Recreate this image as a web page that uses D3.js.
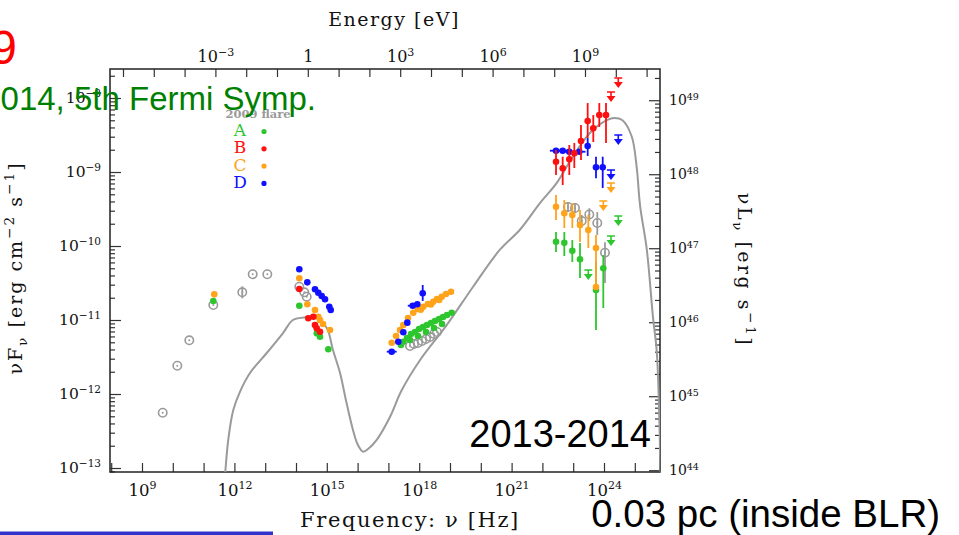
<!DOCTYPE html>
<html>
<head>
<meta charset="utf-8">
<script src="https://cdn.jsdelivr.net/npm/d3@7"></script>
<style>
  body { margin: 0; background: #fff; }
  svg { display: block; }
</style>
</head>
<body>
<svg id="sed" width="959" height="535"></svg>
<script>
// Values are log10(frequency / Hz) and log10(νFν / erg cm^-2 s^-1).

// Emission model (grey curve)
const modelLogNu = [11.68, 11.80, 11.964, 12.18, 12.506, 13.05, 13.578, 13.90, 14.29, 14.67,
  15.0, 15.20, 15.43, 15.62, 15.85, 16.0, 16.18, 16.35, 16.62, 17.05, 17.43, 18.03, 18.89,
  19.75, 20.62, 21.27, 21.92, 22.46, 22.99, 23.55, 24.09, 24.34, 24.60, 24.90, 25.06, 25.17,
  25.39, 25.59, 25.71, 25.78, 25.84];
const modelLogFlux = [-13.2, -12.62, -12.216, -11.97, -11.716, -11.446, -11.176, -11.0, -10.964, -10.977,
  -11.108, -11.405, -11.716, -12.08, -12.486, -12.68, -12.78, -12.74, -12.62, -12.31, -11.95, -11.54, -11.07,
  -10.55, -10.05, -9.78, -9.42, -9.15, -8.79, -8.47, -8.30, -8.27, -8.30, -8.52, -8.93, -9.45,
  -10.05, -10.96, -11.41, -12.08, -13.2];

// Rows: [log ν, log νFν, log lower, log upper, half-width in log ν]
const flare2009 = [
  [9.672, -12.253], [10.146, -11.618], [10.536, -11.274], [11.315, -10.797],
  [12.256, -10.626, -10.707, -10.545], [12.594, -10.382], [13.068, -10.382],
  [14.107, -10.55], [14.27, -10.626], [14.347, -10.685],
  [17.701, -11.351], [17.831, -11.324], [17.961, -11.311], [18.091, -11.284],
  [18.221, -11.257], [18.351, -11.23], [18.481, -11.189], [18.578, -11.162],
  [22.831, -9.473, -9.54, -9.41], [23.058, -9.486, -9.55, -9.42],
  [23.276, -9.662, -9.75, -9.58], [23.523, -9.574, -9.66, -9.49],
  [23.782, -9.689, -9.851, -9.541], [24.032, -10.091, -10.5, -9.95]
];
const stateA = [
  [11.315, -10.743], [14.107, -10.807], [14.675, -11.18], [14.779, -11.226], [15.049, -11.396],
  [17.409, -11.338], [17.484, -11.293], [17.604, -11.243], [17.701, -11.27], [17.734, -11.189],
  [17.864, -11.162], [17.961, -11.216], [17.994, -11.122], [18.123, -11.095], [18.221, -11.162],
  [18.253, -11.068], [18.383, -11.041], [18.481, -11.108], [18.513, -11.014], [18.643, -10.986],
  [18.74, -11.054], [18.773, -10.959], [18.903, -10.932], [19.055, -10.901],
  [22.442, -9.942, -10.081, -9.811], [22.711, -9.955, -10.135, -9.811],
  [22.971, -10.064, -10.216, -9.919], [23.221, -10.18, -10.432, -9.959],
  [23.74, -10.595, -11.135, -10.216], [23.977, -10.301, -10.838, -10.122]
];
const stateB = [
  [14.107, -10.581], [14.399, -10.977], [14.562, -10.955], [14.617, -11.068],
  [14.672, -11.112], [14.779, -11.158],
  [22.442, -8.861, -9.041, -8.703], [22.659, -8.95, -9.176, -8.793],
  [22.873, -8.828, -9.041, -8.635], [23.036, -8.747, -8.946, -8.608],
  [23.253, -8.581, -8.838, -8.365], [23.47, -8.311, -8.541, -8.068],
  [23.652, -8.409, -8.595, -8.23], [23.847, -8.23, -8.392, -8.068],
  [24.065, -8.23, -8.608, -8.068]
];
const stateC = [
  [11.347, -10.653], [14.107, -10.436], [14.367, -10.788], [14.617, -10.865], [14.724, -10.955],
  [14.779, -11.0], [14.877, -11.054], [15.104, -11.135],
  [17.107, -11.307], [17.247, -11.216], [17.377, -11.135], [17.484, -11.068], [17.636, -10.973],
  [17.808, -10.901], [17.961, -10.851], [18.05, -10.86], [18.133, -10.82], [18.286, -10.784],
  [18.38, -10.79], [18.458, -10.753], [18.578, -10.716], [18.65, -10.73], [18.731, -10.685],
  [18.87, -10.649], [19.032, -10.618],
  [22.442, -9.469, -9.649, -9.311], [22.711, -9.558, -9.757, -9.378],
  [22.971, -9.581, -9.757, -9.419], [23.221, -9.716, -9.946, -9.514],
  [23.49, -9.784, -10.027, -9.581], [23.74, -10.027, -10.554, -9.851], [23.74, -10.554]
];
const stateD = [
  [14.107, -10.315], [14.367, -10.491], [14.617, -10.585], [14.724, -10.631], [14.834, -10.676],
  [14.942, -10.72], [15.081, -10.82], [15.127, -10.865],
  [17.107, -11.428, null, null, 0.16], [17.321, -11.293], [17.484, -11.166], [17.614, -11.036],
  [17.789, -10.807, null, null, 0.16], [17.938, -10.788], [18.114, -10.639, -10.743, -10.527],
  [22.442, -8.712, null, null, 0.2], [22.659, -8.712, null, null, 0.2],
  [22.873, -8.726, null, null, 0.16], [23.198, -8.726, null, null, 0.2],
  [23.47, -8.649, -8.784, -8.541], [23.74, -8.936, -9.085, -8.793], [23.958, -8.936, -9.216, -8.793]
];

// Upper limits: [log ν, log νFν]
const limitsA = [[23.49, -10.324], [24.227, -9.865], [24.464, -9.595]];
const limitsB = [[24.227, -7.919], [24.464, -7.73]];
const limitsC = [[24.227, -9.149], [23.977, -9.392]];
const limitsD = [[24.227, -8.973], [24.464, -8.5]];

const legendStates = ["A", "B", "C", "D"];
const stateColors = ["#2ec62e", "#ff1010", "#ffa31a", "#1010ff"];

// Labelled ticks (exponents)
const nuLabelExps = [9, 12, 15, 18, 21, 24];
const energyLabelExps = [-3, 0, 3, 6, 9];
const fluxLabelExps = [-13, -12, -11, -10, -9, -8];
const lumLabelExps = [44, 45, 46, 47, 48, 49];

const LOG_4PI_DL2 = 57.03;  // νLν = 4π d_L² νFν
const LOG_NU_PER_EV = 14.383; // ν = E / h

const frame = { left: 110, right: 660, top: 69, bottom: 472 };
const svg = d3.select("#sed");
svg.append("rect").attr("width", 959).attr("height", 535).attr("fill", "#fff");

const x = d3.scaleLog().domain([10 ** 7.961, 10 ** 25.818]).range([frame.left, frame.right]);
const y = d3.scaleLog().domain([10 ** -13.054, 10 ** -7.608]).range([frame.bottom, frame.top]);
const yLum = d3.scaleLog().domain(y.domain().map(v => v * 10 ** LOG_4PI_DL2)).range(y.range());
const xEnergy = d3.scaleLog().domain(x.domain().map(v => v / 10 ** LOG_NU_PER_EV)).range(x.range());

function decades(scale) {
  const [a, b] = scale.domain(), out = [];
  for (let k = Math.ceil(Math.log10(a) - 1e-9); k <= Math.floor(Math.log10(b) + 1e-9); k++) out.push(10 ** k);
  return out;
}
function minors(scale) {
  const [a, b] = scale.domain(), out = [];
  for (let k = Math.floor(Math.log10(a)); k <= Math.ceil(Math.log10(b)); k++)
    for (let m = 2; m <= 9; m++) { const v = m * 10 ** k; if (v >= a && v <= b) out.push(v); }
  return out;
}
function powLabels(g, exps, fs, supFs, supDy) {
  g.selectAll(".tick text").each(function (d) {
    const e = Math.round(Math.log10(d));
    const t = d3.select(this).text(null).attr("font-size", fs);
    if (!exps.includes(e)) return;
    if (e === 0) { t.text("1"); return; }
    t.append("tspan").text("10");
    t.append("tspan").attr("font-size", supFs).attr("dy", supDy).text(e < 0 ? "\u2212" + (-e) : String(e));
  });
}
function styleAxis(g) {
  g.attr("font-family", "DejaVu Serif, serif").attr("fill", "#111");
  g.select(".domain").remove();
  g.selectAll(".tick line").attr("stroke", "#333").attr("stroke-width", 1.2);
  g.selectAll(".tick text").attr("fill", "#111");
}
function rich(t, parts, fs) {
  let off = 0;
  parts.forEach(([s, k]) => {
    const target = k === "sup" ? -0.4 * fs : k === "sub" ? 0.28 * fs : 0;
    t.append("tspan").attr("dy", target - off).attr("font-size", k === "n" ? fs : fs * 0.72).text(s);
    off = target;
  });
}

// Bottom: frequency
svg.append("g").attr("transform", `translate(0,${frame.bottom})`)
  .call(d3.axisBottom(x).tickValues(decades(x)).tickSize(-9).tickPadding(12).tickFormat(() => ""))
  .call(styleAxis).call(g => powLabels(g, nuLabelExps, 16.5, 11, -6.5));

// Top: energy
svg.append("g").attr("transform", `translate(0,${frame.top})`)
  .call(d3.axisTop(xEnergy).tickValues(decades(xEnergy)).tickSize(-8).tickPadding(7).tickFormat(() => ""))
  .call(styleAxis).call(g => powLabels(g, energyLabelExps, 16, 11, -6.5));

// Left: νFν
svg.append("g").attr("transform", `translate(${frame.left},0)`)
  .call(d3.axisLeft(y).tickValues(minors(y)).tickSize(-5).tickFormat(() => "")).call(styleAxis);
svg.append("g").attr("transform", `translate(${frame.left},0)`)
  .call(d3.axisLeft(y).tickValues(decades(y)).tickSize(-11).tickPadding(9).tickFormat(() => ""))
  .call(styleAxis).call(g => powLabels(g, fluxLabelExps, 15.5, 10.5, -6.5));

// Right: νLν
svg.append("g").attr("transform", `translate(${frame.right},0)`)
  .call(d3.axisRight(yLum).tickValues(minors(yLum)).tickSize(-5).tickFormat(() => "")).call(styleAxis);
svg.append("g").attr("transform", `translate(${frame.right},0)`)
  .call(d3.axisRight(yLum).tickValues(decades(yLum)).tickSize(-11).tickPadding(9).tickFormat(() => ""))
  .call(styleAxis).call(g => powLabels(g, lumLabelExps, 14, 9.5, -5.5));

// Frame
svg.append("rect")
  .attr("x", frame.left).attr("y", frame.top)
  .attr("width", frame.right - frame.left).attr("height", frame.bottom - frame.top)
  .attr("fill", "none").attr("stroke", "#222").attr("stroke-width", 1.5);

// Axis titles
const serif = "DejaVu Serif, serif";
rich(svg.append("text").attr("x", 410).attr("y", 527).attr("text-anchor", "middle")
  .attr("font-family", serif).attr("fill", "#111").attr("letter-spacing", 1.6),
  [["Frequency: ", "n"], ["\u03bd", "n"], [" [Hz]", "n"]], 21);
svg.append("text").attr("x", 394).attr("y", 26).attr("text-anchor", "middle")
  .attr("font-family", serif).attr("font-size", 19).attr("letter-spacing", 1.5).attr("fill", "#111").text("Energy [eV]");
rich(svg.append("text").attr("transform", "translate(22,268) rotate(-90)").attr("text-anchor", "middle")
  .attr("font-family", serif).attr("fill", "#111").attr("letter-spacing", 2),
  [["\u03bdF", "n"], ["\u03bd", "sub"], [" [erg cm", "n"], ["\u22122", "sup"], [" s", "n"], ["\u22121", "sup"], ["]", "n"]], 19);
rich(svg.append("text").attr("transform", "translate(738,270) rotate(90)").attr("text-anchor", "middle")
  .attr("font-family", serif).attr("fill", "#111").attr("letter-spacing", 2.5),
  [["\u03bdL", "n"], ["\u03bd", "sub"], [" [erg s", "n"], ["\u22121", "sup"], ["]", "n"]], 19);

// Plot contents
const plot = svg.append("g");
svg.append("clipPath").attr("id", "frameClip").append("rect")
  .attr("x", frame.left).attr("y", frame.top)
  .attr("width", frame.right - frame.left).attr("height", frame.bottom - frame.top);

const model = modelLogNu.map((v, i) => [v, modelLogFlux[i]]);
plot.append("path").datum(model)
  .attr("clip-path", "url(#frameClip)")
  .attr("fill", "none").attr("stroke", "#9a9a9a").attr("stroke-width", 2)
  .attr("d", d3.line().x(d => x(10 ** d[0])).y(d => y(10 ** d[1])).curve(d3.curveCatmullRom.alpha(0.5)));

function drawErrors(g, rows, color) {
  rows.forEach(r => {
    const cx = x(10 ** r[0]), cy = y(10 ** r[1]);
    if (r[2] != null) g.append("line").attr("x1", cx).attr("x2", cx)
      .attr("y1", y(10 ** r[2])).attr("y2", y(10 ** r[3])).attr("stroke", color).attr("stroke-width", 1.8);
    if (r[4] != null) g.append("line").attr("y1", cy).attr("y2", cy)
      .attr("x1", x(10 ** (r[0] - r[4]))).attr("x2", x(10 ** (r[0] + r[4]))).attr("stroke", color).attr("stroke-width", 1.8);
  });
}
function drawState(rows, color) {
  const g = plot.append("g");
  drawErrors(g, rows, color);
  g.selectAll("circle").data(rows).join("circle")
    .attr("cx", d => x(10 ** d[0])).attr("cy", d => y(10 ** d[1]))
    .attr("r", 3.3).attr("fill", color);
}
function drawLimits(rows, color) {
  const g = plot.append("g");
  rows.forEach(r => {
    const cx = x(10 ** r[0]), cy = y(10 ** r[1]);
    g.append("path").attr("d", `M${cx - 4},${cy}H${cx + 4}M${cx},${cy}V${cy + 6}`)
      .attr("stroke", color).attr("stroke-width", 1.6).attr("fill", "none");
    g.append("path").attr("d", `M${cx - 4.5},${cy + 4}L${cx + 4.5},${cy + 4}L${cx},${cy + 10}Z`).attr("fill", color);
  });
}

// 2009 flare: open circles with a central dot
{
  const g = plot.append("g");
  drawErrors(g, flare2009, "#9a9a9a");
  const pts = g.selectAll("g").data(flare2009).join("g")
    .attr("transform", d => `translate(${x(10 ** d[0])},${y(10 ** d[1])})`);
  pts.append("circle").attr("r", 4.2).attr("fill", "none").attr("stroke", "#9a9a9a").attr("stroke-width", 1.6);
  pts.append("circle").attr("r", 1).attr("fill", "#9a9a9a");
}
drawState(stateA, stateColors[0]);
drawLimits(limitsA, stateColors[0]);
drawState(stateC, stateColors[2]);
drawLimits(limitsC, stateColors[2]);
drawState(stateD, stateColors[3]);
drawLimits(limitsD, stateColors[3]);
drawState(stateB, stateColors[1]);
drawLimits(limitsB, stateColors[1]);

// Legend
svg.append("text").attr("x", 258).attr("y", 118).attr("text-anchor", "middle")
  .attr("font-family", serif).attr("font-weight", "bold").attr("font-size", 11.5).attr("fill", "#9a9a9a")
  .text("2009 flare");
const leg = svg.append("g").selectAll("g").data(legendStates).join("g")
  .attr("transform", (d, i) => `translate(0,${136 + i * 17.3})`);
leg.append("text").attr("x", 240).attr("text-anchor", "middle")
  .attr("font-family", serif).attr("font-size", 17).attr("fill", (d, i) => stateColors[i]).text(d => d);
leg.append("circle").attr("cx", 264).attr("cy", -4.5).attr("r", 2.6).attr("fill", (d, i) => stateColors[i]);

// Annotations
const sans = "Liberation Sans, Arial, sans-serif";
svg.append("text").attr("x", 17).attr("y", 64).attr("text-anchor", "end")
  .attr("font-family", sans).attr("font-size", 48).attr("fill", "#ff0000").text("9");
svg.append("text").attr("x", 316).attr("y", 110).attr("text-anchor", "end")
  .attr("font-family", sans).attr("font-size", 33).attr("fill", "#008000").text("014, 5th Fermi Symp.");
svg.append("text").attr("x", 651).attr("y", 447).attr("text-anchor", "end")
  .attr("font-family", sans).attr("font-size", 38).attr("fill", "#000").text("2013-2014");
svg.append("text").attr("x", 940).attr("y", 527).attr("text-anchor", "end")
  .attr("font-family", sans).attr("font-size", 38.5).attr("fill", "#000").text("0.03 pc (inside BLR)");
svg.append("rect").attr("x", 0).attr("y", 531.5).attr("width", 273).attr("height", 3.5).attr("fill", "#3333cc");
</script>
</body>
</html>
